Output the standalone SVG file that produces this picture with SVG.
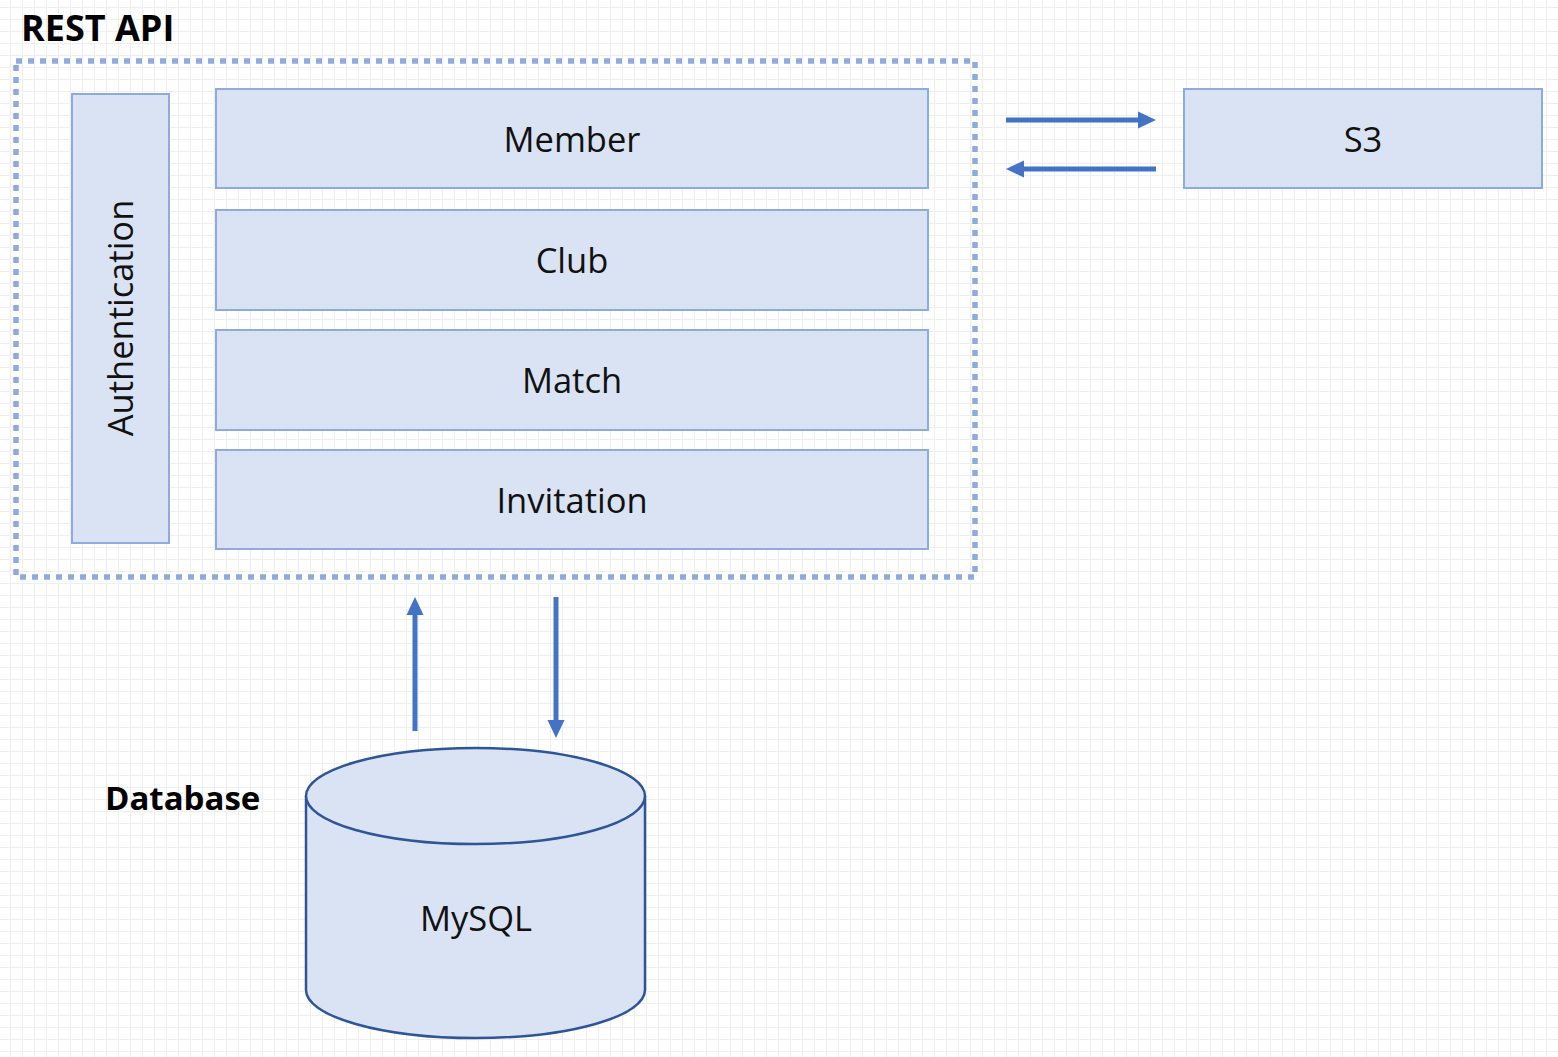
<svg xmlns="http://www.w3.org/2000/svg" width="1558" height="1057" viewBox="0 0 1558 1057">
<defs>
<pattern id="grid" x="10" y="7" width="12" height="12" patternUnits="userSpaceOnUse">
<path d="M0.5 0 V12 M0 0.5 H12" stroke="#efefef" stroke-width="1.2" fill="none"/>
</pattern>
<style>
.box{fill:#dae3f3;stroke:#8faadc;stroke-width:2}
.lbl{font-family:"Open Sans","Noto Sans",sans-serif;font-size:34.5px;fill:#111;text-anchor:middle}
.ttl{font-family:"Open Sans","Noto Sans",sans-serif;font-weight:bold;fill:#000}
.arr{stroke:#4472c4;stroke-width:5;fill:none}
.head{fill:#4472c4;stroke:none}
.db{fill:#dae3f3;stroke:#2f5597;stroke-width:2.5}
</style>
</defs>
<rect width="1558" height="1057" fill="#ffffff"/>
<rect width="1558" height="1057" fill="url(#grid)"/>
<text class="ttl" x="21" y="41" font-size="36">REST API</text>
<rect id="restapi-border" x="16" y="61" width="959" height="516" fill="none" stroke="#8faadc" stroke-width="5.5" stroke-dasharray="6 6"/>
<g id="authentication">
<rect class="box" x="72" y="94" width="97" height="449"/>
<text class="lbl" transform="translate(133 318) rotate(-90)" x="0" y="0">Authentication</text>
</g>
<g id="member">
<rect class="box" x="216" y="89" width="712" height="99"/>
<text class="lbl" x="572" y="152">Member</text>
</g>
<g id="club">
<rect class="box" x="216" y="210" width="712" height="100"/>
<text class="lbl" x="572" y="273">Club</text>
</g>
<g id="match">
<rect class="box" x="216" y="330" width="712" height="100"/>
<text class="lbl" x="572" y="393">Match</text>
</g>
<g id="invitation">
<rect class="box" x="216" y="450" width="712" height="99"/>
<text class="lbl" x="572" y="513">Invitation</text>
</g>
<g id="s3">
<rect class="box" x="1184" y="89" width="358" height="99"/>
<text class="lbl" x="1363" y="152">S3</text>
</g>
<text class="ttl" x="105" y="810" font-size="33">Database</text>
<g id="mysql">
<path class="db" d="M306 796 V990 A169.5 48 0 0 0 645 990 V796"/>
<ellipse class="db" cx="475.5" cy="796" rx="169.5" ry="48"/>
<text class="lbl" x="476" y="931">MySQL</text>
</g>
<g id="connectors">
<line class="arr" x1="1006" y1="120" x2="1140" y2="120"/>
<polygon class="head" points="1138,111.5 1156,120 1138,128.5"/>
<line class="arr" x1="1156" y1="169" x2="1022" y2="169"/>
<polygon class="head" points="1024,160.5 1006,169 1024,177.5"/>
<line class="arr" x1="415" y1="731" x2="415" y2="613"/>
<polygon class="head" points="406.5,615 415,597 423.5,615"/>
<line class="arr" x1="556" y1="597" x2="556" y2="722"/>
<polygon class="head" points="547.5,720 556,738 564.5,720"/>
</g>
</svg>
